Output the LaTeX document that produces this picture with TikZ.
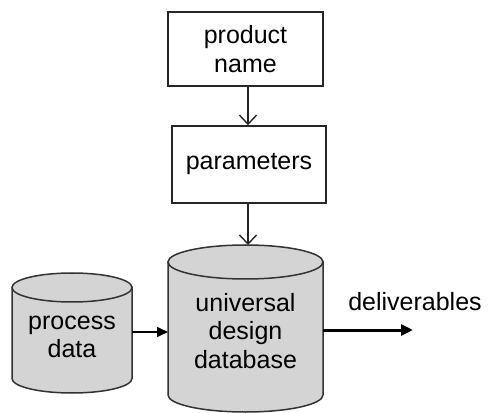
\documentclass[tikz,border=0pt]{standalone}
\usepackage{fontspec}
\setmainfont{Liberation Sans}
\usetikzlibrary{arrows.meta}
\begin{document}
\begin{tikzpicture}[x=1pt,y=1pt,
  every node/.style={font=\fontsize{25}{28.5}\selectfont, align=center},
  labelbox/.style={draw=black!85, line width=1.6pt, inner sep=0pt},
  dbfill/.style={fill=black!17, draw=black!80, line width=1.5pt},
  feed/.style={draw=black!85, line width=1.6pt, -{Straight Barb[length=9pt,width=17pt,line width=1.4pt]}},
  link/.style={draw=black, line width=1.6pt, -{Triangle[length=11pt,width=10pt]}},
  outflow/.style={draw=black, line width=3pt, -{Triangle[length=12pt,width=11pt]}}]
\useasboundingbox (0,0) rectangle (489,412);

% input boxes
\node[labelbox, minimum width=155pt, minimum height=74pt] (prod) at (245.5,363) {product\\name};
\node[labelbox, minimum width=154pt, minimum height=77pt] (param) at (249,247.5) {parameters};

% universal design database cylinder
\path[dbfill] (168,150) -- (168,17) arc[start angle=180, end angle=360, x radius=77.5, y radius=17] -- (323,150) -- cycle;
\path[dbfill] (245.5,150) ellipse[x radius=77.5, y radius=17];
\coordinate (dbtop) at (248,167);
\coordinate (dbleft) at (168,80);
\coordinate (dbright) at (323,82);
\node (db) at (245.5,81) {universal\\design\\database};

% process data cylinder
\path[dbfill] (12,124.5) -- (12,33.5) arc[start angle=180, end angle=360, x radius=60, y radius=14.5] -- (132,124.5) -- cycle;
\path[dbfill] (72,124.5) ellipse[x radius=60, y radius=14.5];
\coordinate (pdright) at (132,80);
\node (pd) at (72,75) {process\\data};

% output end and its label
\coordinate (out) at (413,82);
\node (deliv) at (415,110) {deliverables};

% connectors
\draw[feed] (prod.south -| 248,0) -- (param.north -| 248,0);
\draw[feed] (param.south -| dbtop) -- (dbtop);
\draw[link] (pdright) -- (dbleft);
\draw[outflow] (dbright) -- (out);
\end{tikzpicture}
\end{document}
